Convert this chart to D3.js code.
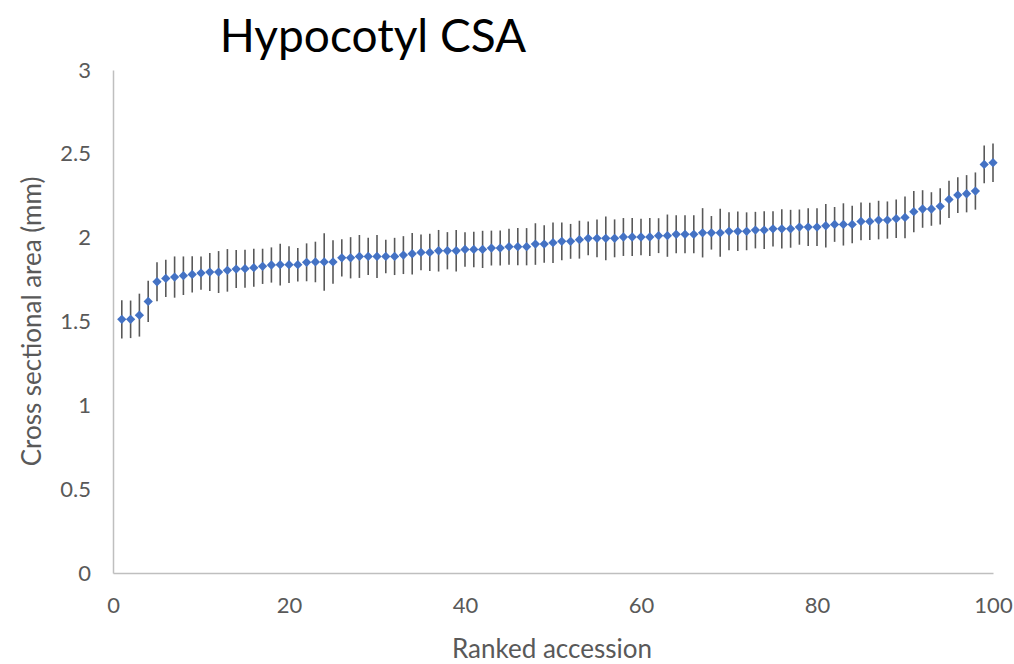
<!DOCTYPE html>
<html>
<head>
<meta charset="utf-8">
<script src="https://cdn.jsdelivr.net/npm/d3@7"></script>
<style>
  body { margin: 0; background: #fff; }
  svg { display: block; }
</style>
</head>
<body>
<svg id="chart" width="1014" height="664"></svg>
<script>
// Ranked accession (1..100)
const ranks = d3.range(1, 101);
// Mean cross sectional area (mm)
const means = [
  1.513, 1.513, 1.538, 1.620, 1.737, 1.757, 1.765, 1.773, 1.781, 1.789,
  1.795, 1.795, 1.805, 1.813, 1.815, 1.821, 1.829, 1.837, 1.839, 1.839,
  1.839, 1.853, 1.855, 1.855, 1.855, 1.880, 1.880, 1.888, 1.888, 1.888,
  1.888, 1.888, 1.896, 1.904, 1.912, 1.912, 1.922, 1.922, 1.922, 1.930,
  1.930, 1.930, 1.938, 1.938, 1.946, 1.946, 1.946, 1.962, 1.962, 1.970,
  1.978, 1.978, 1.988, 1.996, 1.996, 1.996, 1.996, 2.004, 2.004, 2.004,
  2.004, 2.012, 2.012, 2.020, 2.020, 2.020, 2.029, 2.029, 2.029, 2.038,
  2.038, 2.038, 2.045, 2.045, 2.053, 2.053, 2.053, 2.063, 2.063, 2.063,
  2.071, 2.079, 2.079, 2.079, 2.097, 2.097, 2.105, 2.105, 2.113, 2.121,
  2.155, 2.171, 2.171, 2.187, 2.228, 2.254, 2.262, 2.278, 2.437, 2.447
];
// Error (± half length of error bar)
const errors = [
  0.114, 0.112, 0.128, 0.123, 0.116, 0.111, 0.123, 0.115, 0.108, 0.099,
  0.113, 0.125, 0.127, 0.113, 0.113, 0.113, 0.105, 0.105, 0.125, 0.110,
  0.100, 0.113, 0.121, 0.172, 0.130, 0.111, 0.123, 0.128, 0.111, 0.128,
  0.100, 0.111, 0.113, 0.124, 0.107, 0.111, 0.124, 0.111, 0.124, 0.103,
  0.106, 0.111, 0.104, 0.104, 0.107, 0.111, 0.111, 0.124, 0.112, 0.121,
  0.113, 0.104, 0.113, 0.101, 0.113, 0.130, 0.113, 0.113, 0.113, 0.109,
  0.113, 0.104, 0.126, 0.113, 0.113, 0.113, 0.147, 0.100, 0.143, 0.113,
  0.118, 0.113, 0.109, 0.113, 0.105, 0.117, 0.113, 0.105, 0.113, 0.113,
  0.130, 0.104, 0.126, 0.112, 0.113, 0.111, 0.115, 0.111, 0.115, 0.124,
  0.123, 0.112, 0.100, 0.108, 0.111, 0.107, 0.111, 0.111, 0.113, 0.115
];
const xTicks = [0, 20, 40, 60, 80, 100];
const yTicks = [0, 0.5, 1, 1.5, 2, 2.5, 3];

const titleText = "Hypocotyl CSA";
const xLabel = "Ranked accession";
const yLabel = "Cross sectional area (mm)";

const data = ranks.map((r, i) => ({ rank: r, mean: means[i], err: errors[i] }));

const svg = d3.select("#chart");
const margin = { left: 113, right: 21, top: 70, bottom: 91 };
const W = 1014, H = 664;

const x = d3.scaleLinear().domain([0, 100]).range([margin.left, W - margin.right]);
const y = d3.scaleLinear().domain([0, 3]).range([H - margin.bottom, margin.top]);

const font = "Lato, 'Open Sans', 'Liberation Sans', sans-serif";
const axisColor = "#bfbfbf";
const textColor = "#595959";

// X axis
const xAxis = svg.append("g")
  .attr("transform", `translate(0,${y(0)})`)
  .call(d3.axisBottom(x).tickValues(xTicks).tickSize(0).tickPadding(24).tickFormat(d3.format("d")));
xAxis.select(".domain").attr("stroke", axisColor).attr("stroke-width", 1.5);
xAxis.selectAll("text").attr("fill", textColor).attr("font-size", 22).attr("font-family", font);

// Y axis
const yAxis = svg.append("g")
  .attr("transform", `translate(${x(0)},0)`)
  .call(d3.axisLeft(y).tickValues(yTicks).tickSize(0).tickPadding(22).tickFormat(d => String(d)));
yAxis.select(".domain").attr("stroke", axisColor).attr("stroke-width", 1.5);
yAxis.selectAll("text").attr("fill", textColor).attr("font-size", 22).attr("font-family", font);

// Error bars
svg.append("g").selectAll("line")
  .data(data).join("line")
  .attr("x1", d => x(d.rank)).attr("x2", d => x(d.rank))
  .attr("y1", d => y(d.mean - d.err)).attr("y2", d => y(d.mean + d.err))
  .attr("stroke", "#595959").attr("stroke-width", 1.6);

// Markers (diamonds)
svg.append("g").selectAll("path")
  .data(data).join("path")
  .attr("transform", d => `translate(${x(d.rank)},${y(d.mean)})`)
  .attr("d", d3.symbol().type(d3.symbolDiamond2).size(55))
  .attr("fill", "#4472C4");

// Title
svg.append("text")
  .attr("x", 373).attr("y", 52)
  .attr("text-anchor", "middle")
  .attr("font-family", font)
  .attr("font-size", 46)
  .attr("fill", "#000")
  .text(titleText);

// Axis titles
svg.append("text")
  .attr("x", 552).attr("y", 658)
  .attr("text-anchor", "middle")
  .attr("font-family", font).attr("font-size", 26)
  .attr("fill", textColor)
  .text(xLabel);

svg.append("text")
  .attr("transform", `translate(41,${(y(0) + y(3)) / 2}) rotate(-90)`)
  .attr("text-anchor", "middle")
  .attr("font-family", font).attr("font-size", 26)
  .attr("fill", textColor)
  .text(yLabel);
</script>
</body>
</html>
